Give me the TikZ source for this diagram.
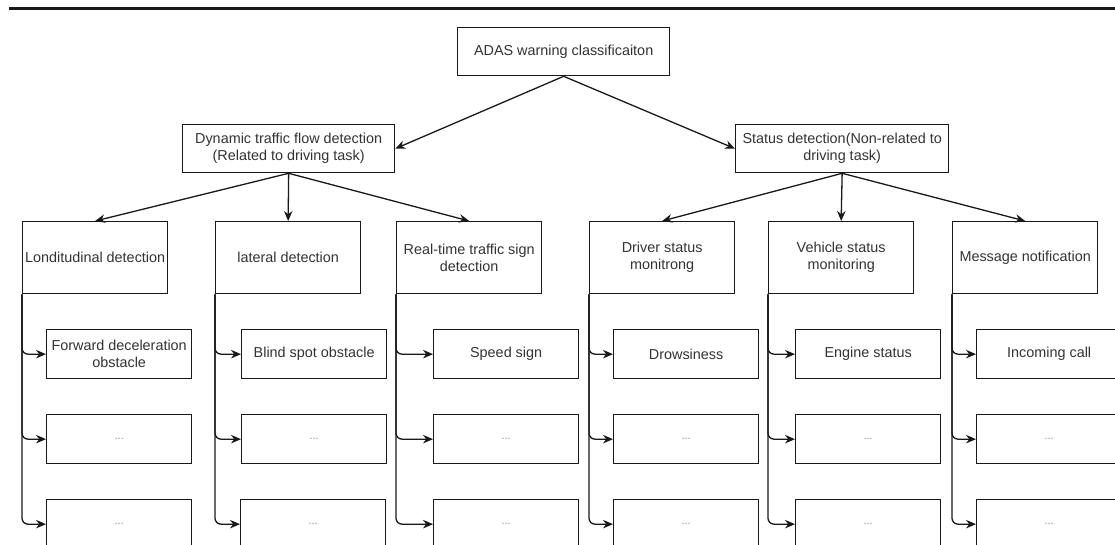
\documentclass[tikz,border=0pt]{standalone}
\usepackage{fontspec}
\setmainfont{Liberation Sans}
\usetikzlibrary{arrows.meta}
\begin{document}
\begin{tikzpicture}[x=1pt,y=-1pt,
  box/.style={draw=black!90, line width=1.3pt, fill=white, inner sep=0pt,
    align=center, text=black!80, font=\fontsize{14.4}{17}\selectfont},
  head/.style={box, anchor=north west, minimum height=48pt},
  cat/.style={box, anchor=north west, minimum width=145pt, minimum height=72pt},
  leaf/.style={box, anchor=north west, minimum width=145pt, minimum height=49pt},
  dots/.style={leaf, font=\fontsize{11}{12}\selectfont, text=black!45},
  arr/.style={draw=black!90, line width=1.3pt, -{Stealth[length=10pt,width=8.5pt]}},
  branch/.style={arr, rounded corners=6pt}]
\useasboundingbox (0,0) rectangle (1115,544);
\clip (0,0) rectangle (1115,544);

% rule across the top
\coordinate (ruleL) at (9,8.5);
\coordinate (ruleR) at (1115,8.5);
\draw[line width=2.5pt, black!90] (ruleL) -- (ruleR);

% root and the two main groups
\node[head, minimum width=212pt] (root) at (457,27) {ADAS warning classificaiton};
\node[head, minimum width=212pt] (dyn) at (182,124) {Dynamic traffic flow detection\\(Related to driving task)};
\node[head, minimum width=213pt] (stat) at (735,124) {Status detection(Non-related to\\driving task)};

% categories
\node[cat] (lon)  at (22,221)  {Londitudinal detection};
\node[cat] (lat)  at (215,221) {lateral detection};
\node[cat] (sign) at (396,221) {Real-time traffic sign\\detection};
\node[cat] (drv)  at (589,221) {Driver status\\monitrong};
\node[cat] (veh)  at (768,221) {Vehicle status\\monitoring};
\node[cat] (msg)  at (952,221) {Message notification};

% warnings under each category
\node[leaf] (lon1) at (46,329) {Forward deceleration\\obstacle};
\node[dots] (lon2) at (46,414) {...};
\node[dots] (lon3) at (46,499) {...};

\node[leaf] (lat1) at (241,329) {Blind spot obstacle};
\node[dots] (lat2) at (241,414) {...};
\node[dots] (lat3) at (240,499) {...};

\node[leaf] (sign1) at (433,329) {Speed sign};
\node[dots] (sign2) at (433,414) {...};
\node[dots] (sign3) at (433,499) {...};

\node[leaf] (drv1) at (613,329) {Drowsiness};
\node[dots] (drv2) at (613,414) {...};
\node[dots] (drv3) at (613,499) {...};

\node[leaf] (veh1) at (795,329) {Engine status};
\node[dots] (veh2) at (795,414) {...};
\node[dots] (veh3) at (795,499) {...};

\node[leaf] (msg1) at (976,329) {Incoming call};
\node[dots] (msg2) at (976,414) {...};
\node[dots] (msg3) at (976,499) {...};

% connectors
\draw[arr] (root.south) -- (dyn.east);
\draw[arr] (root.south) -- (stat.west);

\draw[arr] (dyn.south) -- (lon.north);
\draw[arr] (dyn.south) -- (lat.north);
\draw[arr] (dyn.south) -- (sign.north);
\draw[arr] (stat.south) -- (drv.north);
\draw[arr] (stat.south) -- (veh.north);
\draw[arr] (stat.south) -- (msg.north);

\foreach \p in {lon,lat,sign,drv,veh,msg}{
  \foreach \i in {1,2,3}{
    \draw[branch] (\p.south west) |- (\p\i.west);
  }
}
\end{tikzpicture}
\end{document}
